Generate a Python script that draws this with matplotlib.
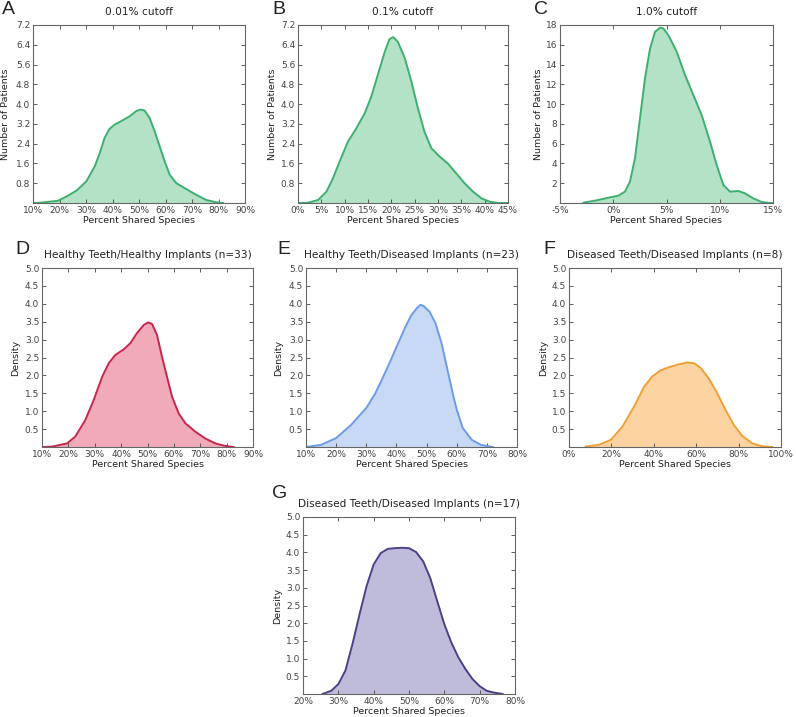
import numpy as np
import matplotlib.pyplot as plt
from matplotlib.ticker import FuncFormatter

# --- curve points (x in percent, y in count/density) ---
a_x = [10, 12.5, 19.4, 22.6, 26.4, 30.1, 33.3, 35.2, 37.0, 38.9, 40.8, 43.3, 46.5, 49.0, 50.5,
       52.1, 54.0, 55.9, 57.8, 59.7, 61.6, 64.1, 67.9, 71.6, 75.4, 79.2, 81.7]
a_y = [0.0, 0.01, 0.09, 0.26, 0.50, 0.87, 1.48, 2.02, 2.63, 3.0, 3.17, 3.31, 3.51, 3.72, 3.78,
       3.74, 3.44, 2.90, 2.29, 1.68, 1.14, 0.80, 0.56, 0.33, 0.12, 0.03, 0.0]

b_x = [0, 2.1, 4.3, 6.1, 7.5, 8.9, 10.7, 12.5, 14.3, 15.7, 17.1, 18.6, 19.6, 20.4, 21.4, 22.9,
       24.3, 25.7, 27.1, 28.6, 30.4, 32.1, 33.9, 35.7, 37.5, 39.3, 41.1, 42.9, 45]
b_y = [0.0, 0.01, 0.12, 0.46, 1.0, 1.67, 2.48, 3.02, 3.63, 4.3, 5.18, 6.12, 6.63, 6.71, 6.52, 5.85,
       4.91, 3.83, 2.88, 2.21, 1.87, 1.6, 1.2, 0.8, 0.46, 0.19, 0.05, 0.0, 0.0]

c_x = [-2.8, -1.56, -0.3, 0.48, 1.1, 1.57, 2.04, 2.51, 2.98, 3.45, 3.92, 4.39, 4.7, 5.17, 5.96,
       6.74, 7.52, 8.3, 9.09, 9.71, 10.34, 10.96, 11.75, 12.37, 13.15, 13.94, 14.7, 15]
c_y = [0.03, 0.27, 0.57, 0.74, 1.15, 2.16, 4.52, 8.56, 12.6, 15.6, 17.3, 17.73, 17.66, 16.99, 15.3,
       12.94, 10.92, 8.9, 6.2, 3.84, 1.82, 1.15, 1.21, 0.98, 0.47, 0.1, 0.0, 0.0]

d_x = [10, 13.8, 19.5, 22.6, 26.4, 29.6, 32.8, 35.3, 37.8, 41.0, 43.5, 46.0, 48.6, 50.2, 51.7,
       53.6, 55.5, 57.4, 59.3, 61.8, 64.4, 68.1, 71.9, 75.7, 79.5, 82.7]
d_y = [0.0, 0.01, 0.1, 0.29, 0.75, 1.31, 1.96, 2.34, 2.57, 2.73, 2.9, 3.18, 3.41, 3.48, 3.44,
       3.13, 2.52, 1.96, 1.41, 0.94, 0.66, 0.43, 0.24, 0.1, 0.03, 0.0]

e_x = [10, 15, 20, 25, 30, 33, 35, 38, 40, 43, 45, 47, 48, 49, 51, 53, 55, 57, 59, 60, 62, 65, 68, 72]
e_y = [0.0, 0.06, 0.25, 0.62, 1.09, 1.5, 1.85, 2.4, 2.79, 3.36, 3.69, 3.9, 3.97, 3.94, 3.78, 3.45,
       2.89, 2.13, 1.38, 1.05, 0.53, 0.2, 0.06, 0.0]

f_x = [7.9, 14.1, 19.7, 25.2, 30.7, 35.4, 39.3, 43.2, 47.2, 51.9, 55.8, 59.0, 62.1, 66.0, 70.0,
       73.9, 77.8, 81.7, 86.5, 91.2, 95.9]
f_y = [0.01, 0.06, 0.2, 0.57, 1.13, 1.68, 1.97, 2.14, 2.23, 2.31, 2.36, 2.34, 2.21, 1.91, 1.49,
       1.03, 0.61, 0.31, 0.1, 0.02, 0.0]

g_x = [25.5, 28, 30, 32, 34, 36, 38, 40, 42, 44, 46, 48, 50, 52, 54, 56, 58, 60, 62, 64, 66, 68,
       70, 72, 74, 76.5]
g_y = [0.0, 0.09, 0.28, 0.66, 1.41, 2.25, 3.05, 3.66, 3.98, 4.1, 4.12, 4.13, 4.12, 4.01, 3.75, 3.28,
       2.62, 1.97, 1.45, 1.03, 0.7, 0.42, 0.22, 0.09, 0.04, 0.0]

count_ticks = [0.8, 1.6, 2.4, 3.2, 4.0, 4.8, 5.6, 6.4, 7.2]
count_ticks_c = [2, 4, 6, 8, 10, 12, 14, 16, 18]
density_ticks = [0.5, 1.0, 1.5, 2.0, 2.5, 3.0, 3.5, 4.0, 4.5, 5.0]

TXT = '#222222'
plt.rcParams['font.family'] = 'DejaVu Sans'
plt.rcParams['text.color'] = TXT
plt.rcParams['axes.labelcolor'] = TXT
plt.rcParams['xtick.color'] = '#444444'
plt.rcParams['ytick.color'] = '#444444'

fig = plt.figure(figsize=(7.96, 7.17), dpi=100)
W, H = 796.0, 717.0


def make_ax(x0, y0, x1, y1):
    return fig.add_axes([x0 / W, 1 - y1 / H, (x1 - x0) / W, (y1 - y0) / H])


def pct(v, pos):
    return '%d%%' % round(v)


panels = [
    # letter, letter pos, box, x, y, line, fill, title, xticks, yticks, ymax, ylabel, ylabel x
    ('A', (8, 10), (33, 25, 245, 203), a_x, a_y, '#3daf6e', '#b4e2c6', '0.01% cutoff',
     range(10, 91, 10), count_ticks, 7.2, 'Number of Patients', -0.108),
    ('B', (279, 10), (298, 25, 508, 203), b_x, b_y, '#3daf6e', '#b4e2c6', '0.1% cutoff',
     range(0, 46, 5), count_ticks, 7.2, 'Number of Patients', -0.10),
    ('C', (541, 10), (560, 25, 773, 203), c_x, c_y, '#3daf6e', '#b4e2c6', '1.0% cutoff',
     range(-5, 16, 5), count_ticks_c, 18, 'Number of Patients', -0.08),
    ('D', (22, 250), (42, 268, 253, 447), d_x, d_y, '#c8264c', '#f1aab9',
     'Healthy Teeth/Healthy Implants (n=33)', range(10, 91, 10), density_ticks, 5.0, 'Density', -0.104),
    ('E', (284, 250), (306, 268, 517, 447), e_x, e_y, '#6e9be6', '#c7d9f5',
     'Healthy Teeth/Diseased Implants (n=23)', range(10, 81, 10), density_ticks, 5.0, 'Density', -0.109),
    ('F', (549, 250), (569, 268, 781, 447), f_x, f_y, '#f0a035', '#fdd3a2',
     'Diseased Teeth/Diseased Implants (n=8)', range(0, 101, 20), density_ticks, 5.0, 'Density', -0.099),
    ('G', (280, 494), (303, 517, 515, 694), g_x, g_y, '#4b4188', '#bfbbdb',
     'Diseased Teeth/Diseased Implants (n=17)', range(20, 81, 10), density_ticks, 5.0, 'Density', -0.099),
]

for letter, lpos, box, xs, ys, lc, fc, title, xt, yt, ymax, ylab, ylx in panels:
    ax = make_ax(*box)
    ax.fill_between(xs, ys, 0, color=fc, linewidth=0)
    ax.plot(xs, ys, color=lc, linewidth=1.4, solid_joinstyle='round')
    xt = list(xt)
    ax.set_xlim(xt[0], xt[-1])
    ax.set_ylim(0, ymax)
    ax.set_xticks(xt)
    ax.set_yticks(yt)
    ax.xaxis.set_major_formatter(FuncFormatter(pct))
    ax.tick_params(direction='in', length=3, width=0.6, labelsize=6.5, pad=2,
                   top=True, right=True)
    for s in ax.spines.values():
        s.set_color('#666666')
        s.set_linewidth(0.8)
    ax.set_xlabel('Percent Shared Species', fontsize=6.8, labelpad=1)
    ax.set_ylabel(ylab, fontsize=6.8)
    ax.yaxis.set_label_coords(ylx, 0.5)
    ax.set_title(title, fontsize=7.6, pad=7)
    fig.text(lpos[0] / W, 1 - lpos[1] / H, letter, fontsize=14, ha='center', va='center',
             family='Liberation Sans')

fig.savefig('out.png', dpi=100)
